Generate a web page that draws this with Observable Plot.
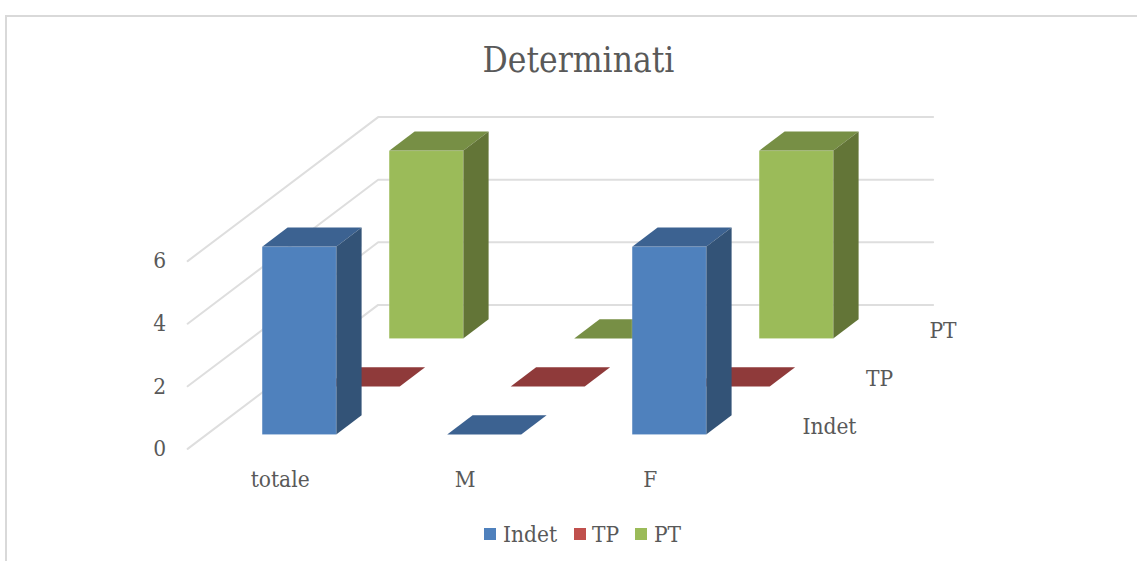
<!DOCTYPE html>
<html><head><meta charset="utf-8">
<script src="https://cdn.jsdelivr.net/npm/d3@7"></script>
<script src="https://cdn.jsdelivr.net/npm/@observablehq/plot@0.6"></script>
<style>
html,body{margin:0;padding:0;background:#fff;overflow:hidden;width:1137px;height:561px}
#frame{position:absolute;left:5px;top:15px;width:1132px;height:546px;border-left:2px solid #d9d9d9;border-top:2px solid #d9d9d9;box-sizing:border-box}
#page{position:absolute;left:0;top:0;width:1137px;height:561px;font-family:"DejaVu Serif Condensed","DejaVu Serif",serif;font-stretch:condensed;color:#595959}
#title{position:absolute;left:0;top:0;width:1157px;height:90px;line-height:120px;text-align:center;font-size:35px}
#chart{position:absolute;left:0;top:90px}
#chart svg{display:block;background:transparent}
#legend{position:absolute;left:0;top:510px;width:1137px;height:51px;font-size:22.5px}
#legend span{position:absolute;top:12px;line-height:24px}
#legend i{position:absolute;top:18px;width:12px;height:12px}
</style></head><body>
<div id="frame"></div>
<div id="page">
<div id="title">Determinati</div>
<div id="chart"></div>
<div id="legend"></div>
</div>
<script>
const categories = ["totale", "M", "F"];
const series = ["Indet", "TP", "PT"];
const indet = [6, 0, 6];
const tp = [0, 0, 0];
const pt = [6, 0, 6];
const valueTicks = [0, 2, 4, 6];
const frontColors = ["#4f81bd", "#c0504d", "#9bbb59"];
const topColors = ["#3c6291", "#8f3a3a", "#778f45"];
const sideColors = ["#335377", "#7a2f2d", "#637537"];
const values = [indet, tp, pt];

// oblique projection: one series step moves right and up in category/value units
const shearX = 63.5 / 185, shearY = 48 / 31.3;
const px = (c, s) => c + s * shearX;
const py = (s, v) => v + s * shearY;
const P = (c, s, v) => ({x: px(c, s), y: py(s, v)});
const half = 0.2;
const W = 1137, H = 420;
const xUnit = 185, yUnit = 31.3, x0 = 311.4, y0 = 334.4;

const marks = [];
const poly = (pts, fill, extra = {}) => marks.push(Plot.line(pts, {x: "x", y: "y", fill, stroke: "none", curve: "linear-closed", ...extra}));
const gridOpt = {x: "x", y: "y", stroke: "#dedede", strokeWidth: 2};
const cMin = -0.5, cMax = categories.length - 0.5, sMin = -0.5, sMax = series.length - 0.5;

for (const v of valueTicks) {
  marks.push(Plot.line([P(cMin, sMin, v), P(cMin, sMax, v), P(cMax, sMax, v)], gridOpt));
}
for (let s = series.length - 1; s >= 0; --s) {
  categories.forEach((cat, c) => {
    const v = values[s][c];
    const l = c - half, r = c + half, f = s - half, b = s + half;
    poly([P(l, f, v), P(r, f, v), P(r, b, v), P(l, b, v)], topColors[s]);
    if (v > 0) {
      poly([P(r, f, 0), P(r, b, 0), P(r, b, v), P(r, f, v)], sideColors[s]);
      poly([P(l, f, 0), P(r, f, 0), P(r, f, v), P(l, f, v)], frontColors[s], {stroke: "#ffffff", strokeOpacity: 0.15, strokeWidth: 1});
    }
  });
}
const textOpt = {fill: "#595959", fontFamily: "DejaVu Serif Condensed, DejaVu Serif", fontSize: 22.5};
marks.push(Plot.text(valueTicks, {x: () => px(cMin, sMin), y: v => py(sMin, v), text: String, dx: -28, ...textOpt}));
marks.push(Plot.text(categories, {x: (d, i) => px(i, sMin), y: () => py(sMin, 0), text: d => d, dy: 31, ...textOpt}));
marks.push(Plot.text(series, {x: (d, i) => px(cMax, i), y: (d, i) => py(i, 0), text: d => d, dx: 28, dy: 2, textAnchor: "start", ...textOpt}));

const chart = Plot.plot({
  width: W, height: H, margin: 0,
  x: {axis: null, domain: [-x0 / xUnit, (W - x0) / xUnit], range: [0, W]},
  y: {axis: null, domain: [(y0 - H) / yUnit, y0 / yUnit], range: [H, 0]},
  marks
});
document.getElementById("chart").appendChild(chart);

const leg = document.getElementById("legend");
const legendX = [[484, 503], [574, 592], [635, 654]];
series.forEach((s, i) => {
  const sw = document.createElement("i");
  sw.style.left = legendX[i][0] + "px";
  sw.style.background = frontColors[i];
  const t = document.createElement("span");
  t.style.left = legendX[i][1] + "px";
  t.textContent = s;
  leg.append(sw, t);
});
</script>
</body></html>
